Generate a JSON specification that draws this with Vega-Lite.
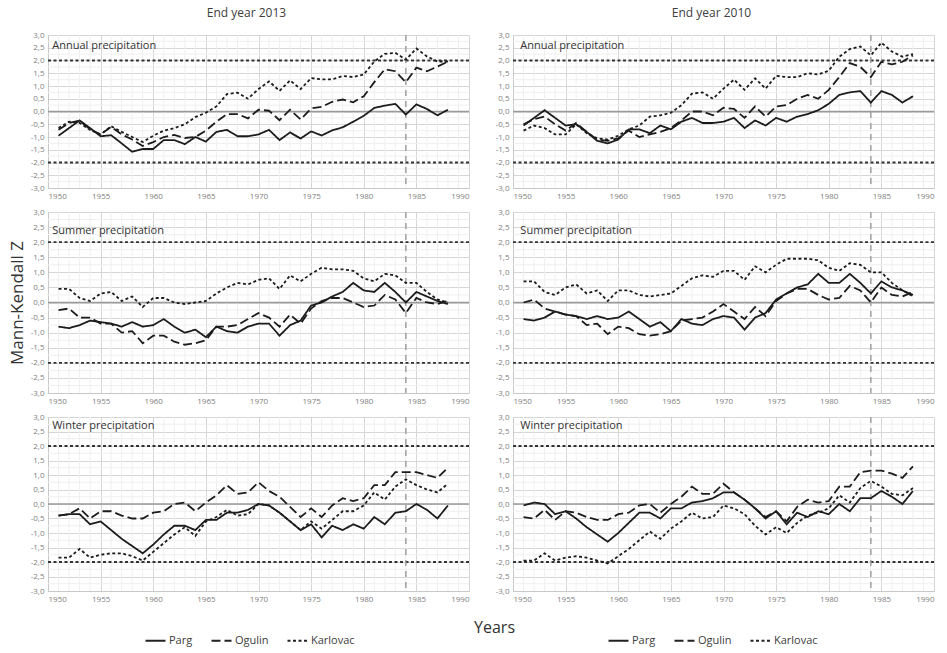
{
  "$schema": "https://vega.github.io/schema/vega-lite/v6.json",
  "background": "white",
  "padding": {"left": 8, "top": 7, "right": 5, "bottom": 5},
  "config": {
    "view": {"stroke": null},
    "font": "Liberation Sans Narrow, Open Sans, sans-serif",
    "title": {"fontWeight": "normal"},
    "axis": {"labelOverlap": false, "labelFontSize": 8, "labelColor": "#808080", "labelPadding": 4, "ticks": false, "domainColor": "#c8c8c8", "gridColor": "#d6d6d6"}
  },
  "datasets": {
    "minorYears": [{"year":1951},{"year":1952},{"year":1953},{"year":1954},{"year":1956},{"year":1957},{"year":1958},{"year":1959},{"year":1961},{"year":1962},{"year":1963},{"year":1964},{"year":1966},{"year":1967},{"year":1968},{"year":1969},{"year":1971},{"year":1972},{"year":1973},{"year":1974},{"year":1976},{"year":1977},{"year":1978},{"year":1979},{"year":1981},{"year":1982},{"year":1983},{"year":1984},{"year":1986},{"year":1987},{"year":1988},{"year":1989}],
    "minorZ": [{"z":-2.75},{"z":-2.25},{"z":-1.75},{"z":-1.25},{"z":-0.75},{"z":-0.25},{"z":0.25},{"z":0.75},{"z":1.25},{"z":1.75},{"z":2.25},{"z":2.75}],
    "annual2013": [
      {"year":1951,"station":"Parg","z":-0.95},{"year":1952,"station":"Parg","z":-0.65},{"year":1953,"station":"Parg","z":-0.35},{"year":1954,"station":"Parg","z":-0.65},{"year":1955,"station":"Parg","z":-0.97},{"year":1956,"station":"Parg","z":-0.93},{"year":1957,"station":"Parg","z":-1.25},{"year":1958,"station":"Parg","z":-1.58},{"year":1959,"station":"Parg","z":-1.47},{"year":1960,"station":"Parg","z":-1.47},{"year":1961,"station":"Parg","z":-1.12},{"year":1962,"station":"Parg","z":-1.12},{"year":1963,"station":"Parg","z":-1.28},{"year":1964,"station":"Parg","z":-1.0},{"year":1965,"station":"Parg","z":-1.18},{"year":1966,"station":"Parg","z":-0.8},{"year":1967,"station":"Parg","z":-0.72},{"year":1968,"station":"Parg","z":-0.97},{"year":1969,"station":"Parg","z":-0.97},{"year":1970,"station":"Parg","z":-0.9},{"year":1971,"station":"Parg","z":-0.72},{"year":1972,"station":"Parg","z":-1.12},{"year":1973,"station":"Parg","z":-0.82},{"year":1974,"station":"Parg","z":-1.06},{"year":1975,"station":"Parg","z":-0.78},{"year":1976,"station":"Parg","z":-0.94},{"year":1977,"station":"Parg","z":-0.74},{"year":1978,"station":"Parg","z":-0.62},{"year":1979,"station":"Parg","z":-0.4},{"year":1980,"station":"Parg","z":-0.17},{"year":1981,"station":"Parg","z":0.14},{"year":1982,"station":"Parg","z":0.23},{"year":1983,"station":"Parg","z":0.3},{"year":1984,"station":"Parg","z":-0.12},{"year":1985,"station":"Parg","z":0.28},{"year":1986,"station":"Parg","z":0.1},{"year":1987,"station":"Parg","z":-0.15},{"year":1988,"station":"Parg","z":0.07},
      {"year":1951,"station":"Ogulin","z":-0.72},{"year":1952,"station":"Ogulin","z":-0.45},{"year":1953,"station":"Ogulin","z":-0.36},{"year":1954,"station":"Ogulin","z":-0.7},{"year":1955,"station":"Ogulin","z":-0.9},{"year":1956,"station":"Ogulin","z":-0.6},{"year":1957,"station":"Ogulin","z":-0.9},{"year":1958,"station":"Ogulin","z":-1.1},{"year":1959,"station":"Ogulin","z":-1.35},{"year":1960,"station":"Ogulin","z":-1.2},{"year":1961,"station":"Ogulin","z":-1.0},{"year":1962,"station":"Ogulin","z":-0.92},{"year":1963,"station":"Ogulin","z":-1.04},{"year":1964,"station":"Ogulin","z":-1.0},{"year":1965,"station":"Ogulin","z":-0.75},{"year":1966,"station":"Ogulin","z":-0.4},{"year":1967,"station":"Ogulin","z":-0.1},{"year":1968,"station":"Ogulin","z":-0.1},{"year":1969,"station":"Ogulin","z":-0.27},{"year":1970,"station":"Ogulin","z":0.07},{"year":1971,"station":"Ogulin","z":0.03},{"year":1972,"station":"Ogulin","z":-0.34},{"year":1973,"station":"Ogulin","z":0.07},{"year":1974,"station":"Ogulin","z":-0.31},{"year":1975,"station":"Ogulin","z":0.12},{"year":1976,"station":"Ogulin","z":0.18},{"year":1977,"station":"Ogulin","z":0.38},{"year":1978,"station":"Ogulin","z":0.47},{"year":1979,"station":"Ogulin","z":0.36},{"year":1980,"station":"Ogulin","z":0.6},{"year":1981,"station":"Ogulin","z":1.15},{"year":1982,"station":"Ogulin","z":1.66},{"year":1983,"station":"Ogulin","z":1.58},{"year":1984,"station":"Ogulin","z":1.15},{"year":1985,"station":"Ogulin","z":1.72},{"year":1986,"station":"Ogulin","z":1.58},{"year":1987,"station":"Ogulin","z":1.76},{"year":1988,"station":"Ogulin","z":1.96},
      {"year":1951,"station":"Karlovac","z":-0.65},{"year":1952,"station":"Karlovac","z":-0.4},{"year":1953,"station":"Karlovac","z":-0.45},{"year":1954,"station":"Karlovac","z":-0.72},{"year":1955,"station":"Karlovac","z":-0.9},{"year":1956,"station":"Karlovac","z":-0.58},{"year":1957,"station":"Karlovac","z":-0.8},{"year":1958,"station":"Karlovac","z":-1.0},{"year":1959,"station":"Karlovac","z":-1.2},{"year":1960,"station":"Karlovac","z":-0.95},{"year":1961,"station":"Karlovac","z":-0.75},{"year":1962,"station":"Karlovac","z":-0.65},{"year":1963,"station":"Karlovac","z":-0.5},{"year":1964,"station":"Karlovac","z":-0.22},{"year":1965,"station":"Karlovac","z":-0.05},{"year":1966,"station":"Karlovac","z":0.2},{"year":1967,"station":"Karlovac","z":0.68},{"year":1968,"station":"Karlovac","z":0.74},{"year":1969,"station":"Karlovac","z":0.5},{"year":1970,"station":"Karlovac","z":0.88},{"year":1971,"station":"Karlovac","z":1.18},{"year":1972,"station":"Karlovac","z":0.81},{"year":1973,"station":"Karlovac","z":1.22},{"year":1974,"station":"Karlovac","z":0.88},{"year":1975,"station":"Karlovac","z":1.31},{"year":1976,"station":"Karlovac","z":1.26},{"year":1977,"station":"Karlovac","z":1.26},{"year":1978,"station":"Karlovac","z":1.39},{"year":1979,"station":"Karlovac","z":1.35},{"year":1980,"station":"Karlovac","z":1.45},{"year":1981,"station":"Karlovac","z":1.96},{"year":1982,"station":"Karlovac","z":2.26},{"year":1983,"station":"Karlovac","z":2.3},{"year":1984,"station":"Karlovac","z":2.03},{"year":1985,"station":"Karlovac","z":2.47},{"year":1986,"station":"Karlovac","z":2.16},{"year":1987,"station":"Karlovac","z":1.96},{"year":1988,"station":"Karlovac","z":1.96}
    ],
    "annual2010": [
      {"year":1951,"station":"Parg","z":-0.55},{"year":1952,"station":"Parg","z":-0.25},{"year":1953,"station":"Parg","z":0.05},{"year":1954,"station":"Parg","z":-0.25},{"year":1955,"station":"Parg","z":-0.55},{"year":1956,"station":"Parg","z":-0.5},{"year":1957,"station":"Parg","z":-0.8},{"year":1958,"station":"Parg","z":-1.15},{"year":1959,"station":"Parg","z":-1.25},{"year":1960,"station":"Parg","z":-1.1},{"year":1961,"station":"Parg","z":-0.7},{"year":1962,"station":"Parg","z":-0.7},{"year":1963,"station":"Parg","z":-0.85},{"year":1964,"station":"Parg","z":-0.55},{"year":1965,"station":"Parg","z":-0.7},{"year":1966,"station":"Parg","z":-0.4},{"year":1967,"station":"Parg","z":-0.25},{"year":1968,"station":"Parg","z":-0.45},{"year":1969,"station":"Parg","z":-0.45},{"year":1970,"station":"Parg","z":-0.4},{"year":1971,"station":"Parg","z":-0.25},{"year":1972,"station":"Parg","z":-0.65},{"year":1973,"station":"Parg","z":-0.35},{"year":1974,"station":"Parg","z":-0.55},{"year":1975,"station":"Parg","z":-0.25},{"year":1976,"station":"Parg","z":-0.4},{"year":1977,"station":"Parg","z":-0.2},{"year":1978,"station":"Parg","z":-0.1},{"year":1979,"station":"Parg","z":0.05},{"year":1980,"station":"Parg","z":0.3},{"year":1981,"station":"Parg","z":0.65},{"year":1982,"station":"Parg","z":0.75},{"year":1983,"station":"Parg","z":0.8},{"year":1984,"station":"Parg","z":0.35},{"year":1985,"station":"Parg","z":0.8},{"year":1986,"station":"Parg","z":0.65},{"year":1987,"station":"Parg","z":0.35},{"year":1988,"station":"Parg","z":0.6},
      {"year":1951,"station":"Ogulin","z":-0.5},{"year":1952,"station":"Ogulin","z":-0.3},{"year":1953,"station":"Ogulin","z":-0.2},{"year":1954,"station":"Ogulin","z":-0.5},{"year":1955,"station":"Ogulin","z":-0.75},{"year":1956,"station":"Ogulin","z":-0.45},{"year":1957,"station":"Ogulin","z":-0.8},{"year":1958,"station":"Ogulin","z":-1.1},{"year":1959,"station":"Ogulin","z":-1.15},{"year":1960,"station":"Ogulin","z":-1.05},{"year":1961,"station":"Ogulin","z":-0.75},{"year":1962,"station":"Ogulin","z":-1.0},{"year":1963,"station":"Ogulin","z":-0.9},{"year":1964,"station":"Ogulin","z":-0.8},{"year":1965,"station":"Ogulin","z":-0.65},{"year":1966,"station":"Ogulin","z":-0.35},{"year":1967,"station":"Ogulin","z":0.0},{"year":1968,"station":"Ogulin","z":0.0},{"year":1969,"station":"Ogulin","z":-0.15},{"year":1970,"station":"Ogulin","z":0.15},{"year":1971,"station":"Ogulin","z":0.1},{"year":1972,"station":"Ogulin","z":-0.25},{"year":1973,"station":"Ogulin","z":0.2},{"year":1974,"station":"Ogulin","z":-0.2},{"year":1975,"station":"Ogulin","z":0.2},{"year":1976,"station":"Ogulin","z":0.25},{"year":1977,"station":"Ogulin","z":0.5},{"year":1978,"station":"Ogulin","z":0.65},{"year":1979,"station":"Ogulin","z":0.5},{"year":1980,"station":"Ogulin","z":0.85},{"year":1981,"station":"Ogulin","z":1.35},{"year":1982,"station":"Ogulin","z":1.9},{"year":1983,"station":"Ogulin","z":1.75},{"year":1984,"station":"Ogulin","z":1.35},{"year":1985,"station":"Ogulin","z":1.95},{"year":1986,"station":"Ogulin","z":1.85},{"year":1987,"station":"Ogulin","z":1.95},{"year":1988,"station":"Ogulin","z":2.2},
      {"year":1951,"station":"Karlovac","z":-0.75},{"year":1952,"station":"Karlovac","z":-0.55},{"year":1953,"station":"Karlovac","z":-0.65},{"year":1954,"station":"Karlovac","z":-0.9},{"year":1955,"station":"Karlovac","z":-0.9},{"year":1956,"station":"Karlovac","z":-0.5},{"year":1957,"station":"Karlovac","z":-0.85},{"year":1958,"station":"Karlovac","z":-1.05},{"year":1959,"station":"Karlovac","z":-1.1},{"year":1960,"station":"Karlovac","z":-0.95},{"year":1961,"station":"Karlovac","z":-0.7},{"year":1962,"station":"Karlovac","z":-0.55},{"year":1963,"station":"Karlovac","z":-0.2},{"year":1964,"station":"Karlovac","z":-0.15},{"year":1965,"station":"Karlovac","z":-0.05},{"year":1966,"station":"Karlovac","z":0.25},{"year":1967,"station":"Karlovac","z":0.7},{"year":1968,"station":"Karlovac","z":0.75},{"year":1969,"station":"Karlovac","z":0.5},{"year":1970,"station":"Karlovac","z":0.9},{"year":1971,"station":"Karlovac","z":1.25},{"year":1972,"station":"Karlovac","z":0.85},{"year":1973,"station":"Karlovac","z":1.3},{"year":1974,"station":"Karlovac","z":0.9},{"year":1975,"station":"Karlovac","z":1.4},{"year":1976,"station":"Karlovac","z":1.35},{"year":1977,"station":"Karlovac","z":1.35},{"year":1978,"station":"Karlovac","z":1.5},{"year":1979,"station":"Karlovac","z":1.45},{"year":1980,"station":"Karlovac","z":1.6},{"year":1981,"station":"Karlovac","z":2.15},{"year":1982,"station":"Karlovac","z":2.45},{"year":1983,"station":"Karlovac","z":2.55},{"year":1984,"station":"Karlovac","z":2.2},{"year":1985,"station":"Karlovac","z":2.7},{"year":1986,"station":"Karlovac","z":2.35},{"year":1987,"station":"Karlovac","z":2.15},{"year":1988,"station":"Karlovac","z":2.25}
    ],
    "summer2013": [
      {"year":1951,"station":"Parg","z":-0.8},{"year":1952,"station":"Parg","z":-0.85},{"year":1953,"station":"Parg","z":-0.75},{"year":1954,"station":"Parg","z":-0.6},{"year":1955,"station":"Parg","z":-0.65},{"year":1956,"station":"Parg","z":-0.7},{"year":1957,"station":"Parg","z":-0.8},{"year":1958,"station":"Parg","z":-0.65},{"year":1959,"station":"Parg","z":-0.8},{"year":1960,"station":"Parg","z":-0.75},{"year":1961,"station":"Parg","z":-0.55},{"year":1962,"station":"Parg","z":-0.8},{"year":1963,"station":"Parg","z":-1.0},{"year":1964,"station":"Parg","z":-0.9},{"year":1965,"station":"Parg","z":-1.15},{"year":1966,"station":"Parg","z":-0.8},{"year":1967,"station":"Parg","z":-0.95},{"year":1968,"station":"Parg","z":-1.0},{"year":1969,"station":"Parg","z":-0.8},{"year":1970,"station":"Parg","z":-0.7},{"year":1971,"station":"Parg","z":-0.7},{"year":1972,"station":"Parg","z":-1.1},{"year":1973,"station":"Parg","z":-0.75},{"year":1974,"station":"Parg","z":-0.6},{"year":1975,"station":"Parg","z":-0.1},{"year":1976,"station":"Parg","z":0.0},{"year":1977,"station":"Parg","z":0.2},{"year":1978,"station":"Parg","z":0.35},{"year":1979,"station":"Parg","z":0.65},{"year":1980,"station":"Parg","z":0.4},{"year":1981,"station":"Parg","z":0.35},{"year":1982,"station":"Parg","z":0.65},{"year":1983,"station":"Parg","z":0.35},{"year":1984,"station":"Parg","z":0.0},{"year":1985,"station":"Parg","z":0.35},{"year":1986,"station":"Parg","z":0.2},{"year":1987,"station":"Parg","z":0.05},{"year":1988,"station":"Parg","z":-0.05},
      {"year":1951,"station":"Ogulin","z":-0.25},{"year":1952,"station":"Ogulin","z":-0.2},{"year":1953,"station":"Ogulin","z":-0.5},{"year":1954,"station":"Ogulin","z":-0.5},{"year":1955,"station":"Ogulin","z":-0.7},{"year":1956,"station":"Ogulin","z":-0.7},{"year":1957,"station":"Ogulin","z":-1.0},{"year":1958,"station":"Ogulin","z":-0.95},{"year":1959,"station":"Ogulin","z":-1.35},{"year":1960,"station":"Ogulin","z":-1.1},{"year":1961,"station":"Ogulin","z":-1.1},{"year":1962,"station":"Ogulin","z":-1.3},{"year":1963,"station":"Ogulin","z":-1.4},{"year":1964,"station":"Ogulin","z":-1.35},{"year":1965,"station":"Ogulin","z":-1.25},{"year":1966,"station":"Ogulin","z":-0.8},{"year":1967,"station":"Ogulin","z":-0.8},{"year":1968,"station":"Ogulin","z":-0.75},{"year":1969,"station":"Ogulin","z":-0.55},{"year":1970,"station":"Ogulin","z":-0.35},{"year":1971,"station":"Ogulin","z":-0.5},{"year":1972,"station":"Ogulin","z":-0.8},{"year":1973,"station":"Ogulin","z":-0.4},{"year":1974,"station":"Ogulin","z":-0.7},{"year":1975,"station":"Ogulin","z":-0.2},{"year":1976,"station":"Ogulin","z":0.05},{"year":1977,"station":"Ogulin","z":0.15},{"year":1978,"station":"Ogulin","z":0.15},{"year":1979,"station":"Ogulin","z":0.0},{"year":1980,"station":"Ogulin","z":-0.15},{"year":1981,"station":"Ogulin","z":-0.1},{"year":1982,"station":"Ogulin","z":0.25},{"year":1983,"station":"Ogulin","z":0.1},{"year":1984,"station":"Ogulin","z":-0.35},{"year":1985,"station":"Ogulin","z":0.15},{"year":1986,"station":"Ogulin","z":0.0},{"year":1987,"station":"Ogulin","z":-0.05},{"year":1988,"station":"Ogulin","z":0.05},
      {"year":1951,"station":"Karlovac","z":0.45},{"year":1952,"station":"Karlovac","z":0.45},{"year":1953,"station":"Karlovac","z":0.15},{"year":1954,"station":"Karlovac","z":0.05},{"year":1955,"station":"Karlovac","z":0.3},{"year":1956,"station":"Karlovac","z":0.35},{"year":1957,"station":"Karlovac","z":0.05},{"year":1958,"station":"Karlovac","z":0.2},{"year":1959,"station":"Karlovac","z":-0.15},{"year":1960,"station":"Karlovac","z":0.15},{"year":1961,"station":"Karlovac","z":0.15},{"year":1962,"station":"Karlovac","z":0.0},{"year":1963,"station":"Karlovac","z":-0.05},{"year":1964,"station":"Karlovac","z":0.0},{"year":1965,"station":"Karlovac","z":0.05},{"year":1966,"station":"Karlovac","z":0.3},{"year":1967,"station":"Karlovac","z":0.5},{"year":1968,"station":"Karlovac","z":0.65},{"year":1969,"station":"Karlovac","z":0.6},{"year":1970,"station":"Karlovac","z":0.75},{"year":1971,"station":"Karlovac","z":0.8},{"year":1972,"station":"Karlovac","z":0.45},{"year":1973,"station":"Karlovac","z":0.9},{"year":1974,"station":"Karlovac","z":0.7},{"year":1975,"station":"Karlovac","z":0.95},{"year":1976,"station":"Karlovac","z":1.15},{"year":1977,"station":"Karlovac","z":1.1},{"year":1978,"station":"Karlovac","z":1.1},{"year":1979,"station":"Karlovac","z":1.05},{"year":1980,"station":"Karlovac","z":0.8},{"year":1981,"station":"Karlovac","z":0.7},{"year":1982,"station":"Karlovac","z":0.95},{"year":1983,"station":"Karlovac","z":0.9},{"year":1984,"station":"Karlovac","z":0.65},{"year":1985,"station":"Karlovac","z":0.65},{"year":1986,"station":"Karlovac","z":0.35},{"year":1987,"station":"Karlovac","z":0.1},{"year":1988,"station":"Karlovac","z":0.0}
    ],
    "summer2010": [
      {"year":1951,"station":"Parg","z":-0.55},{"year":1952,"station":"Parg","z":-0.6},{"year":1953,"station":"Parg","z":-0.5},{"year":1954,"station":"Parg","z":-0.3},{"year":1955,"station":"Parg","z":-0.4},{"year":1956,"station":"Parg","z":-0.45},{"year":1957,"station":"Parg","z":-0.55},{"year":1958,"station":"Parg","z":-0.45},{"year":1959,"station":"Parg","z":-0.55},{"year":1960,"station":"Parg","z":-0.5},{"year":1961,"station":"Parg","z":-0.3},{"year":1962,"station":"Parg","z":-0.55},{"year":1963,"station":"Parg","z":-0.8},{"year":1964,"station":"Parg","z":-0.65},{"year":1965,"station":"Parg","z":-0.95},{"year":1966,"station":"Parg","z":-0.55},{"year":1967,"station":"Parg","z":-0.7},{"year":1968,"station":"Parg","z":-0.75},{"year":1969,"station":"Parg","z":-0.55},{"year":1970,"station":"Parg","z":-0.45},{"year":1971,"station":"Parg","z":-0.5},{"year":1972,"station":"Parg","z":-0.9},{"year":1973,"station":"Parg","z":-0.5},{"year":1974,"station":"Parg","z":-0.35},{"year":1975,"station":"Parg","z":0.1},{"year":1976,"station":"Parg","z":0.3},{"year":1977,"station":"Parg","z":0.5},{"year":1978,"station":"Parg","z":0.6},{"year":1979,"station":"Parg","z":0.95},{"year":1980,"station":"Parg","z":0.65},{"year":1981,"station":"Parg","z":0.65},{"year":1982,"station":"Parg","z":0.95},{"year":1983,"station":"Parg","z":0.65},{"year":1984,"station":"Parg","z":0.3},{"year":1985,"station":"Parg","z":0.7},{"year":1986,"station":"Parg","z":0.5},{"year":1987,"station":"Parg","z":0.4},{"year":1988,"station":"Parg","z":0.25},
      {"year":1951,"station":"Ogulin","z":0.0},{"year":1952,"station":"Ogulin","z":0.1},{"year":1953,"station":"Ogulin","z":-0.2},{"year":1954,"station":"Ogulin","z":-0.3},{"year":1955,"station":"Ogulin","z":-0.4},{"year":1956,"station":"Ogulin","z":-0.45},{"year":1957,"station":"Ogulin","z":-0.75},{"year":1958,"station":"Ogulin","z":-0.7},{"year":1959,"station":"Ogulin","z":-1.05},{"year":1960,"station":"Ogulin","z":-0.8},{"year":1961,"station":"Ogulin","z":-0.85},{"year":1962,"station":"Ogulin","z":-1.05},{"year":1963,"station":"Ogulin","z":-1.1},{"year":1964,"station":"Ogulin","z":-1.05},{"year":1965,"station":"Ogulin","z":-0.95},{"year":1966,"station":"Ogulin","z":-0.6},{"year":1967,"station":"Ogulin","z":-0.55},{"year":1968,"station":"Ogulin","z":-0.5},{"year":1969,"station":"Ogulin","z":-0.3},{"year":1970,"station":"Ogulin","z":-0.05},{"year":1971,"station":"Ogulin","z":-0.3},{"year":1972,"station":"Ogulin","z":-0.55},{"year":1973,"station":"Ogulin","z":-0.15},{"year":1974,"station":"Ogulin","z":-0.45},{"year":1975,"station":"Ogulin","z":0.05},{"year":1976,"station":"Ogulin","z":0.3},{"year":1977,"station":"Ogulin","z":0.45},{"year":1978,"station":"Ogulin","z":0.45},{"year":1979,"station":"Ogulin","z":0.25},{"year":1980,"station":"Ogulin","z":0.1},{"year":1981,"station":"Ogulin","z":0.15},{"year":1982,"station":"Ogulin","z":0.55},{"year":1983,"station":"Ogulin","z":0.4},{"year":1984,"station":"Ogulin","z":0.0},{"year":1985,"station":"Ogulin","z":0.5},{"year":1986,"station":"Ogulin","z":0.25},{"year":1987,"station":"Ogulin","z":0.2},{"year":1988,"station":"Ogulin","z":0.35},
      {"year":1951,"station":"Karlovac","z":0.7},{"year":1952,"station":"Karlovac","z":0.7},{"year":1953,"station":"Karlovac","z":0.35},{"year":1954,"station":"Karlovac","z":0.25},{"year":1955,"station":"Karlovac","z":0.5},{"year":1956,"station":"Karlovac","z":0.6},{"year":1957,"station":"Karlovac","z":0.3},{"year":1958,"station":"Karlovac","z":0.4},{"year":1959,"station":"Karlovac","z":0.05},{"year":1960,"station":"Karlovac","z":0.4},{"year":1961,"station":"Karlovac","z":0.4},{"year":1962,"station":"Karlovac","z":0.25},{"year":1963,"station":"Karlovac","z":0.2},{"year":1964,"station":"Karlovac","z":0.25},{"year":1965,"station":"Karlovac","z":0.3},{"year":1966,"station":"Karlovac","z":0.55},{"year":1967,"station":"Karlovac","z":0.8},{"year":1968,"station":"Karlovac","z":0.9},{"year":1969,"station":"Karlovac","z":0.85},{"year":1970,"station":"Karlovac","z":1.05},{"year":1971,"station":"Karlovac","z":1.05},{"year":1972,"station":"Karlovac","z":0.75},{"year":1973,"station":"Karlovac","z":1.2},{"year":1974,"station":"Karlovac","z":1.0},{"year":1975,"station":"Karlovac","z":1.25},{"year":1976,"station":"Karlovac","z":1.45},{"year":1977,"station":"Karlovac","z":1.45},{"year":1978,"station":"Karlovac","z":1.45},{"year":1979,"station":"Karlovac","z":1.4},{"year":1980,"station":"Karlovac","z":1.15},{"year":1981,"station":"Karlovac","z":1.05},{"year":1982,"station":"Karlovac","z":1.3},{"year":1983,"station":"Karlovac","z":1.25},{"year":1984,"station":"Karlovac","z":1.0},{"year":1985,"station":"Karlovac","z":1.0},{"year":1986,"station":"Karlovac","z":0.65},{"year":1987,"station":"Karlovac","z":0.4},{"year":1988,"station":"Karlovac","z":0.2}
    ],
    "winter2013": [
      {"year":1951,"station":"Parg","z":-0.4},{"year":1952,"station":"Parg","z":-0.35},{"year":1953,"station":"Parg","z":-0.35},{"year":1954,"station":"Parg","z":-0.7},{"year":1955,"station":"Parg","z":-0.6},{"year":1956,"station":"Parg","z":-0.9},{"year":1957,"station":"Parg","z":-1.2},{"year":1958,"station":"Parg","z":-1.45},{"year":1959,"station":"Parg","z":-1.7},{"year":1960,"station":"Parg","z":-1.4},{"year":1961,"station":"Parg","z":-1.05},{"year":1962,"station":"Parg","z":-0.75},{"year":1963,"station":"Parg","z":-0.75},{"year":1964,"station":"Parg","z":-0.9},{"year":1965,"station":"Parg","z":-0.55},{"year":1966,"station":"Parg","z":-0.55},{"year":1967,"station":"Parg","z":-0.3},{"year":1968,"station":"Parg","z":-0.3},{"year":1969,"station":"Parg","z":-0.2},{"year":1970,"station":"Parg","z":0.0},{"year":1971,"station":"Parg","z":-0.05},{"year":1972,"station":"Parg","z":-0.3},{"year":1973,"station":"Parg","z":-0.6},{"year":1974,"station":"Parg","z":-0.9},{"year":1975,"station":"Parg","z":-0.7},{"year":1976,"station":"Parg","z":-1.15},{"year":1977,"station":"Parg","z":-0.75},{"year":1978,"station":"Parg","z":-0.9},{"year":1979,"station":"Parg","z":-0.7},{"year":1980,"station":"Parg","z":-0.85},{"year":1981,"station":"Parg","z":-0.45},{"year":1982,"station":"Parg","z":-0.7},{"year":1983,"station":"Parg","z":-0.3},{"year":1984,"station":"Parg","z":-0.25},{"year":1985,"station":"Parg","z":0.0},{"year":1986,"station":"Parg","z":-0.2},{"year":1987,"station":"Parg","z":-0.5},{"year":1988,"station":"Parg","z":-0.05},
      {"year":1951,"station":"Ogulin","z":-0.4},{"year":1952,"station":"Ogulin","z":-0.35},{"year":1953,"station":"Ogulin","z":-0.15},{"year":1954,"station":"Ogulin","z":-0.5},{"year":1955,"station":"Ogulin","z":-0.25},{"year":1956,"station":"Ogulin","z":-0.25},{"year":1957,"station":"Ogulin","z":-0.4},{"year":1958,"station":"Ogulin","z":-0.5},{"year":1959,"station":"Ogulin","z":-0.5},{"year":1960,"station":"Ogulin","z":-0.3},{"year":1961,"station":"Ogulin","z":-0.25},{"year":1962,"station":"Ogulin","z":0.0},{"year":1963,"station":"Ogulin","z":0.05},{"year":1964,"station":"Ogulin","z":-0.25},{"year":1965,"station":"Ogulin","z":0.05},{"year":1966,"station":"Ogulin","z":0.3},{"year":1967,"station":"Ogulin","z":0.65},{"year":1968,"station":"Ogulin","z":0.35},{"year":1969,"station":"Ogulin","z":0.4},{"year":1970,"station":"Ogulin","z":0.75},{"year":1971,"station":"Ogulin","z":0.45},{"year":1972,"station":"Ogulin","z":0.25},{"year":1973,"station":"Ogulin","z":-0.1},{"year":1974,"station":"Ogulin","z":-0.45},{"year":1975,"station":"Ogulin","z":-0.15},{"year":1976,"station":"Ogulin","z":-0.45},{"year":1977,"station":"Ogulin","z":-0.05},{"year":1978,"station":"Ogulin","z":0.2},{"year":1979,"station":"Ogulin","z":0.1},{"year":1980,"station":"Ogulin","z":0.2},{"year":1981,"station":"Ogulin","z":0.65},{"year":1982,"station":"Ogulin","z":0.65},{"year":1983,"station":"Ogulin","z":1.1},{"year":1984,"station":"Ogulin","z":1.1},{"year":1985,"station":"Ogulin","z":1.1},{"year":1986,"station":"Ogulin","z":1.0},{"year":1987,"station":"Ogulin","z":0.9},{"year":1988,"station":"Ogulin","z":1.25},
      {"year":1951,"station":"Karlovac","z":-1.85},{"year":1952,"station":"Karlovac","z":-1.85},{"year":1953,"station":"Karlovac","z":-1.55},{"year":1954,"station":"Karlovac","z":-1.85},{"year":1955,"station":"Karlovac","z":-1.75},{"year":1956,"station":"Karlovac","z":-1.7},{"year":1957,"station":"Karlovac","z":-1.7},{"year":1958,"station":"Karlovac","z":-1.8},{"year":1959,"station":"Karlovac","z":-1.95},{"year":1960,"station":"Karlovac","z":-1.65},{"year":1961,"station":"Karlovac","z":-1.35},{"year":1962,"station":"Karlovac","z":-1.05},{"year":1963,"station":"Karlovac","z":-0.8},{"year":1964,"station":"Karlovac","z":-1.1},{"year":1965,"station":"Karlovac","z":-0.6},{"year":1966,"station":"Karlovac","z":-0.45},{"year":1967,"station":"Karlovac","z":-0.2},{"year":1968,"station":"Karlovac","z":-0.4},{"year":1969,"station":"Karlovac","z":-0.35},{"year":1970,"station":"Karlovac","z":0.0},{"year":1971,"station":"Karlovac","z":-0.05},{"year":1972,"station":"Karlovac","z":-0.3},{"year":1973,"station":"Karlovac","z":-0.6},{"year":1974,"station":"Karlovac","z":-0.9},{"year":1975,"station":"Karlovac","z":-0.6},{"year":1976,"station":"Karlovac","z":-0.85},{"year":1977,"station":"Karlovac","z":-0.55},{"year":1978,"station":"Karlovac","z":-0.25},{"year":1979,"station":"Karlovac","z":-0.25},{"year":1980,"station":"Karlovac","z":-0.05},{"year":1981,"station":"Karlovac","z":0.4},{"year":1982,"station":"Karlovac","z":0.15},{"year":1983,"station":"Karlovac","z":0.6},{"year":1984,"station":"Karlovac","z":0.85},{"year":1985,"station":"Karlovac","z":0.65},{"year":1986,"station":"Karlovac","z":0.5},{"year":1987,"station":"Karlovac","z":0.4},{"year":1988,"station":"Karlovac","z":0.7}
    ],
    "winter2010": [
      {"year":1951,"station":"Parg","z":-0.05},{"year":1952,"station":"Parg","z":0.05},{"year":1953,"station":"Parg","z":0.0},{"year":1954,"station":"Parg","z":-0.35},{"year":1955,"station":"Parg","z":-0.25},{"year":1956,"station":"Parg","z":-0.5},{"year":1957,"station":"Parg","z":-0.8},{"year":1958,"station":"Parg","z":-1.05},{"year":1959,"station":"Parg","z":-1.3},{"year":1960,"station":"Parg","z":-1.0},{"year":1961,"station":"Parg","z":-0.65},{"year":1962,"station":"Parg","z":-0.3},{"year":1963,"station":"Parg","z":-0.3},{"year":1964,"station":"Parg","z":-0.5},{"year":1965,"station":"Parg","z":-0.15},{"year":1966,"station":"Parg","z":-0.15},{"year":1967,"station":"Parg","z":0.05},{"year":1968,"station":"Parg","z":0.1},{"year":1969,"station":"Parg","z":0.2},{"year":1970,"station":"Parg","z":0.4},{"year":1971,"station":"Parg","z":0.4},{"year":1972,"station":"Parg","z":0.15},{"year":1973,"station":"Parg","z":-0.15},{"year":1974,"station":"Parg","z":-0.5},{"year":1975,"station":"Parg","z":-0.25},{"year":1976,"station":"Parg","z":-0.7},{"year":1977,"station":"Parg","z":-0.3},{"year":1978,"station":"Parg","z":-0.45},{"year":1979,"station":"Parg","z":-0.25},{"year":1980,"station":"Parg","z":-0.35},{"year":1981,"station":"Parg","z":0.0},{"year":1982,"station":"Parg","z":-0.25},{"year":1983,"station":"Parg","z":0.2},{"year":1984,"station":"Parg","z":0.2},{"year":1985,"station":"Parg","z":0.45},{"year":1986,"station":"Parg","z":0.25},{"year":1987,"station":"Parg","z":0.0},{"year":1988,"station":"Parg","z":0.45},
      {"year":1951,"station":"Ogulin","z":-0.45},{"year":1952,"station":"Ogulin","z":-0.5},{"year":1953,"station":"Ogulin","z":-0.2},{"year":1954,"station":"Ogulin","z":-0.55},{"year":1955,"station":"Ogulin","z":-0.25},{"year":1956,"station":"Ogulin","z":-0.3},{"year":1957,"station":"Ogulin","z":-0.45},{"year":1958,"station":"Ogulin","z":-0.55},{"year":1959,"station":"Ogulin","z":-0.55},{"year":1960,"station":"Ogulin","z":-0.35},{"year":1961,"station":"Ogulin","z":-0.3},{"year":1962,"station":"Ogulin","z":-0.05},{"year":1963,"station":"Ogulin","z":0.0},{"year":1964,"station":"Ogulin","z":-0.3},{"year":1965,"station":"Ogulin","z":0.0},{"year":1966,"station":"Ogulin","z":0.25},{"year":1967,"station":"Ogulin","z":0.6},{"year":1968,"station":"Ogulin","z":0.35},{"year":1969,"station":"Ogulin","z":0.35},{"year":1970,"station":"Ogulin","z":0.7},{"year":1971,"station":"Ogulin","z":0.4},{"year":1972,"station":"Ogulin","z":0.15},{"year":1973,"station":"Ogulin","z":-0.15},{"year":1974,"station":"Ogulin","z":-0.45},{"year":1975,"station":"Ogulin","z":-0.25},{"year":1976,"station":"Ogulin","z":-0.6},{"year":1977,"station":"Ogulin","z":-0.1},{"year":1978,"station":"Ogulin","z":0.15},{"year":1979,"station":"Ogulin","z":0.05},{"year":1980,"station":"Ogulin","z":0.1},{"year":1981,"station":"Ogulin","z":0.6},{"year":1982,"station":"Ogulin","z":0.6},{"year":1983,"station":"Ogulin","z":1.1},{"year":1984,"station":"Ogulin","z":1.15},{"year":1985,"station":"Ogulin","z":1.15},{"year":1986,"station":"Ogulin","z":1.05},{"year":1987,"station":"Ogulin","z":0.9},{"year":1988,"station":"Ogulin","z":1.3},
      {"year":1951,"station":"Karlovac","z":-1.95},{"year":1952,"station":"Karlovac","z":-1.95},{"year":1953,"station":"Karlovac","z":-1.7},{"year":1954,"station":"Karlovac","z":-1.95},{"year":1955,"station":"Karlovac","z":-1.85},{"year":1956,"station":"Karlovac","z":-1.8},{"year":1957,"station":"Karlovac","z":-1.85},{"year":1958,"station":"Karlovac","z":-1.95},{"year":1959,"station":"Karlovac","z":-2.05},{"year":1960,"station":"Karlovac","z":-1.8},{"year":1961,"station":"Karlovac","z":-1.55},{"year":1962,"station":"Karlovac","z":-1.25},{"year":1963,"station":"Karlovac","z":-0.95},{"year":1964,"station":"Karlovac","z":-1.2},{"year":1965,"station":"Karlovac","z":-0.85},{"year":1966,"station":"Karlovac","z":-0.6},{"year":1967,"station":"Karlovac","z":-0.3},{"year":1968,"station":"Karlovac","z":-0.5},{"year":1969,"station":"Karlovac","z":-0.45},{"year":1970,"station":"Karlovac","z":-0.05},{"year":1971,"station":"Karlovac","z":-0.15},{"year":1972,"station":"Karlovac","z":-0.35},{"year":1973,"station":"Karlovac","z":-0.75},{"year":1974,"station":"Karlovac","z":-1.05},{"year":1975,"station":"Karlovac","z":-0.8},{"year":1976,"station":"Karlovac","z":-1.0},{"year":1977,"station":"Karlovac","z":-0.65},{"year":1978,"station":"Karlovac","z":-0.4},{"year":1979,"station":"Karlovac","z":-0.3},{"year":1980,"station":"Karlovac","z":-0.15},{"year":1981,"station":"Karlovac","z":0.3},{"year":1982,"station":"Karlovac","z":0.05},{"year":1983,"station":"Karlovac","z":0.55},{"year":1984,"station":"Karlovac","z":0.8},{"year":1985,"station":"Karlovac","z":0.6},{"year":1986,"station":"Karlovac","z":0.35},{"year":1987,"station":"Karlovac","z":0.3},{"year":1988,"station":"Karlovac","z":0.55}
    ]
  },
  "concat": [
    {
      "width": 421, "height": 153,
      "title": {"text": "End year 2013", "fontSize": 12, "color": "#404040", "offset": 11, "dx": -12},
      "layer": [
        {"data": {"name": "minorYears"}, "mark": {"type": "rule", "color": "#efefef", "strokeWidth": 1},
         "encoding": {"x": {"field": "year", "type": "quantitative", "scale": {"domain": [1950, 1990], "nice": false, "zero": false},
           "axis": {"values": [1950,1955,1960,1965,1970,1975,1980,1985,1990], "tickCount": 20, "format": "d", "title": null}}}},
        {"data": {"name": "minorZ"}, "mark": {"type": "rule", "color": "#efefef", "strokeWidth": 1},
         "encoding": {"y": {"field": "z", "type": "quantitative", "scale": {"domain": [-3, 3], "nice": false},
           "axis": {"values": [-3,-2.5,-2,-1.5,-1,-0.5,0,0.5,1,1.5,2,2.5,3], "tickCount": 30, "labelExpr": "replace(replace(format(datum.value, '.1f'), '.', ','), '\u2212', '-')", "title": null}}}},
        {"data": {"values": [{"z": 2}, {"z": -2}]}, "mark": {"type": "rule", "color": "#333333", "strokeWidth": 1.8, "strokeDash": [3, 2.5]}, "encoding": {"y": {"field": "z", "type": "quantitative"}}},
        {"data": {"values": [{"z": 0}]}, "mark": {"type": "rule", "color": "#9a9a9a", "strokeWidth": 1.6}, "encoding": {"y": {"field": "z", "type": "quantitative"}}},
        {"data": {"values": [{"year": 1984}]}, "mark": {"type": "rule", "color": "#9a9a9a", "strokeWidth": 1.4, "strokeDash": [6, 5]}, "encoding": {"x": {"field": "year", "type": "quantitative"}}},
        {"data": {"name": "annual2013"}, "mark": {"type": "line", "color": "#1c1c1c", "strokeWidth": 1.8},
         "encoding": {"x": {"field": "year", "type": "quantitative"}, "y": {"field": "z", "type": "quantitative"},
           "strokeDash": {"field": "station", "type": "nominal", "scale": {"domain": ["Parg", "Ogulin", "Karlovac"], "range": [[1, 0], [9, 4], [3, 2.5]]}, "legend": null}}},
        {"data": {"values": [{"year": 1950.4, "z": 2.58, "label": "Annual precipitation"}]}, "mark": {"type": "text", "align": "left", "baseline": "middle", "fontSize": 11, "color": "#333333"},
         "encoding": {"x": {"field": "year", "type": "quantitative"}, "y": {"field": "z", "type": "quantitative"}, "text": {"field": "label"}}}
      ]
    },
    {
      "width": 421, "height": 153,
      "title": {"text": "End year 2010", "fontSize": 12, "color": "#404040", "offset": 11, "dx": -12},
      "layer": [
        {"data": {"name": "minorYears"}, "mark": {"type": "rule", "color": "#efefef", "strokeWidth": 1},
         "encoding": {"x": {"field": "year", "type": "quantitative", "scale": {"domain": [1950, 1990], "nice": false, "zero": false},
           "axis": {"values": [1950,1955,1960,1965,1970,1975,1980,1985,1990], "tickCount": 20, "format": "d", "title": null}}}},
        {"data": {"name": "minorZ"}, "mark": {"type": "rule", "color": "#efefef", "strokeWidth": 1},
         "encoding": {"y": {"field": "z", "type": "quantitative", "scale": {"domain": [-3, 3], "nice": false},
           "axis": {"values": [-3,-2.5,-2,-1.5,-1,-0.5,0,0.5,1,1.5,2,2.5,3], "tickCount": 30, "labelExpr": "replace(replace(format(datum.value, '.1f'), '.', ','), '\u2212', '-')", "title": null}}}},
        {"data": {"values": [{"z": 2}, {"z": -2}]}, "mark": {"type": "rule", "color": "#333333", "strokeWidth": 1.8, "strokeDash": [3, 2.5]}, "encoding": {"y": {"field": "z", "type": "quantitative"}}},
        {"data": {"values": [{"z": 0}]}, "mark": {"type": "rule", "color": "#9a9a9a", "strokeWidth": 1.6}, "encoding": {"y": {"field": "z", "type": "quantitative"}}},
        {"data": {"values": [{"year": 1984}]}, "mark": {"type": "rule", "color": "#9a9a9a", "strokeWidth": 1.4, "strokeDash": [6, 5]}, "encoding": {"x": {"field": "year", "type": "quantitative"}}},
        {"data": {"name": "annual2010"}, "mark": {"type": "line", "color": "#1c1c1c", "strokeWidth": 1.8},
         "encoding": {"x": {"field": "year", "type": "quantitative"}, "y": {"field": "z", "type": "quantitative"},
           "strokeDash": {"field": "station", "type": "nominal", "scale": {"domain": ["Parg", "Ogulin", "Karlovac"], "range": [[1, 0], [9, 4], [3, 2.5]]}, "legend": null}}},
        {"data": {"values": [{"year": 1950.7, "z": 2.58, "label": "Annual precipitation"}]}, "mark": {"type": "text", "align": "left", "baseline": "middle", "fontSize": 11, "color": "#333333"},
         "encoding": {"x": {"field": "year", "type": "quantitative"}, "y": {"field": "z", "type": "quantitative"}, "text": {"field": "label"}}}
      ]
    },
    {
      "width": 421, "height": 181,
      "layer": [
        {"data": {"name": "minorYears"}, "mark": {"type": "rule", "color": "#efefef", "strokeWidth": 1},
         "encoding": {"x": {"field": "year", "type": "quantitative", "scale": {"domain": [1950, 1990], "nice": false, "zero": false},
           "axis": {"values": [1950,1955,1960,1965,1970,1975,1980,1985,1990], "tickCount": 20, "format": "d", "title": null}}}},
        {"data": {"name": "minorZ"}, "mark": {"type": "rule", "color": "#efefef", "strokeWidth": 1},
         "encoding": {"y": {"field": "z", "type": "quantitative", "scale": {"domain": [-3, 3], "nice": false},
           "axis": {"values": [-3,-2.5,-2,-1.5,-1,-0.5,0,0.5,1,1.5,2,2.5,3], "tickCount": 30, "labelExpr": "replace(replace(format(datum.value, '.1f'), '.', ','), '\u2212', '-')", "title": "Mann-Kendall Z", "titleFontSize": 17, "titleFontWeight": "normal", "titleColor": "#333333", "titlePadding": 4}}}},
        {"data": {"values": [{"z": 2}, {"z": -2}]}, "mark": {"type": "rule", "color": "#333333", "strokeWidth": 1.8, "strokeDash": [3, 2.5]}, "encoding": {"y": {"field": "z", "type": "quantitative"}}},
        {"data": {"values": [{"z": 0}]}, "mark": {"type": "rule", "color": "#9a9a9a", "strokeWidth": 1.6}, "encoding": {"y": {"field": "z", "type": "quantitative"}}},
        {"data": {"values": [{"year": 1984}]}, "mark": {"type": "rule", "color": "#9a9a9a", "strokeWidth": 1.4, "strokeDash": [6, 5]}, "encoding": {"x": {"field": "year", "type": "quantitative"}}},
        {"data": {"name": "summer2013"}, "mark": {"type": "line", "color": "#1c1c1c", "strokeWidth": 1.8},
         "encoding": {"x": {"field": "year", "type": "quantitative"}, "y": {"field": "z", "type": "quantitative"},
           "strokeDash": {"field": "station", "type": "nominal", "scale": {"domain": ["Parg", "Ogulin", "Karlovac"], "range": [[1, 0], [9, 4], [3, 2.5]]}, "legend": null}}},
        {"data": {"values": [{"year": 1950.4, "z": 2.38, "label": "Summer precipitation"}]}, "mark": {"type": "text", "align": "left", "baseline": "middle", "fontSize": 11, "color": "#333333"},
         "encoding": {"x": {"field": "year", "type": "quantitative"}, "y": {"field": "z", "type": "quantitative"}, "text": {"field": "label"}}}
      ]
    },
    {
      "width": 421, "height": 181,
      "layer": [
        {"data": {"name": "minorYears"}, "mark": {"type": "rule", "color": "#efefef", "strokeWidth": 1},
         "encoding": {"x": {"field": "year", "type": "quantitative", "scale": {"domain": [1950, 1990], "nice": false, "zero": false},
           "axis": {"values": [1950,1955,1960,1965,1970,1975,1980,1985,1990], "tickCount": 20, "format": "d", "title": null}}}},
        {"data": {"name": "minorZ"}, "mark": {"type": "rule", "color": "#efefef", "strokeWidth": 1},
         "encoding": {"y": {"field": "z", "type": "quantitative", "scale": {"domain": [-3, 3], "nice": false},
           "axis": {"values": [-3,-2.5,-2,-1.5,-1,-0.5,0,0.5,1,1.5,2,2.5,3], "tickCount": 30, "labelExpr": "replace(replace(format(datum.value, '.1f'), '.', ','), '\u2212', '-')", "title": null}}}},
        {"data": {"values": [{"z": 2}, {"z": -2}]}, "mark": {"type": "rule", "color": "#333333", "strokeWidth": 1.8, "strokeDash": [3, 2.5]}, "encoding": {"y": {"field": "z", "type": "quantitative"}}},
        {"data": {"values": [{"z": 0}]}, "mark": {"type": "rule", "color": "#9a9a9a", "strokeWidth": 1.6}, "encoding": {"y": {"field": "z", "type": "quantitative"}}},
        {"data": {"values": [{"year": 1984}]}, "mark": {"type": "rule", "color": "#9a9a9a", "strokeWidth": 1.4, "strokeDash": [6, 5]}, "encoding": {"x": {"field": "year", "type": "quantitative"}}},
        {"data": {"name": "summer2010"}, "mark": {"type": "line", "color": "#1c1c1c", "strokeWidth": 1.8},
         "encoding": {"x": {"field": "year", "type": "quantitative"}, "y": {"field": "z", "type": "quantitative"},
           "strokeDash": {"field": "station", "type": "nominal", "scale": {"domain": ["Parg", "Ogulin", "Karlovac"], "range": [[1, 0], [9, 4], [3, 2.5]]}, "legend": null}}},
        {"data": {"values": [{"year": 1950.7, "z": 2.38, "label": "Summer precipitation"}]}, "mark": {"type": "text", "align": "left", "baseline": "middle", "fontSize": 11, "color": "#333333"},
         "encoding": {"x": {"field": "year", "type": "quantitative"}, "y": {"field": "z", "type": "quantitative"}, "text": {"field": "label"}}}
      ]
    },
    {
      "width": 421, "height": 174,
      "layer": [
        {"data": {"name": "minorYears"}, "mark": {"type": "rule", "color": "#efefef", "strokeWidth": 1},
         "encoding": {"x": {"field": "year", "type": "quantitative", "scale": {"domain": [1950, 1990], "nice": false, "zero": false},
           "axis": {"values": [1950,1955,1960,1965,1970,1975,1980,1985,1990], "tickCount": 20, "format": "d", "title": "Years", "titleFontSize": 16, "titleFontWeight": "normal", "titleColor": "#333333", "titleX": 446, "titleY": 36, "titleBaseline": "middle"}}}},
        {"data": {"name": "minorZ"}, "mark": {"type": "rule", "color": "#efefef", "strokeWidth": 1},
         "encoding": {"y": {"field": "z", "type": "quantitative", "scale": {"domain": [-3, 3], "nice": false},
           "axis": {"values": [-3,-2.5,-2,-1.5,-1,-0.5,0,0.5,1,1.5,2,2.5,3], "tickCount": 30, "labelExpr": "replace(replace(format(datum.value, '.1f'), '.', ','), '\u2212', '-')", "title": null}}}},
        {"data": {"values": [{"z": 2}, {"z": -2}]}, "mark": {"type": "rule", "color": "#333333", "strokeWidth": 1.8, "strokeDash": [3, 2.5]}, "encoding": {"y": {"field": "z", "type": "quantitative"}}},
        {"data": {"values": [{"z": 0}]}, "mark": {"type": "rule", "color": "#9a9a9a", "strokeWidth": 1.6}, "encoding": {"y": {"field": "z", "type": "quantitative"}}},
        {"data": {"values": [{"year": 1984}]}, "mark": {"type": "rule", "color": "#9a9a9a", "strokeWidth": 1.4, "strokeDash": [6, 5]}, "encoding": {"x": {"field": "year", "type": "quantitative"}}},
        {"data": {"name": "winter2013"}, "mark": {"type": "line", "color": "#1c1c1c", "strokeWidth": 1.8},
         "encoding": {"x": {"field": "year", "type": "quantitative"}, "y": {"field": "z", "type": "quantitative"},
           "strokeDash": {"field": "station", "type": "nominal", "scale": {"domain": ["Parg", "Ogulin", "Karlovac"], "range": [[1, 0], [9, 4], [3, 2.5]]},
             "legend": {"orient": "none", "legendX": 96, "legendY": 212, "direction": "horizontal", "title": null, "symbolType": "stroke", "symbolSize": 400, "symbolStrokeWidth": 2.2, "symbolStrokeColor": "#222222", "labelFontSize": 11, "labelColor": "#404040", "columnPadding": 14, "labelOffset": 2}}}},
        {"data": {"values": [{"year": 1950.4, "z": 2.7, "label": "Winter precipitation"}]}, "mark": {"type": "text", "align": "left", "baseline": "middle", "fontSize": 11, "color": "#333333"},
         "encoding": {"x": {"field": "year", "type": "quantitative"}, "y": {"field": "z", "type": "quantitative"}, "text": {"field": "label"}}}
      ]
    },
    {
      "width": 421, "height": 174,
      "layer": [
        {"data": {"name": "minorYears"}, "mark": {"type": "rule", "color": "#efefef", "strokeWidth": 1},
         "encoding": {"x": {"field": "year", "type": "quantitative", "scale": {"domain": [1950, 1990], "nice": false, "zero": false},
           "axis": {"values": [1950,1955,1960,1965,1970,1975,1980,1985,1990], "tickCount": 20, "format": "d", "title": null}}}},
        {"data": {"name": "minorZ"}, "mark": {"type": "rule", "color": "#efefef", "strokeWidth": 1},
         "encoding": {"y": {"field": "z", "type": "quantitative", "scale": {"domain": [-3, 3], "nice": false},
           "axis": {"values": [-3,-2.5,-2,-1.5,-1,-0.5,0,0.5,1,1.5,2,2.5,3], "tickCount": 30, "labelExpr": "replace(replace(format(datum.value, '.1f'), '.', ','), '\u2212', '-')", "title": null}}}},
        {"data": {"values": [{"z": 2}, {"z": -2}]}, "mark": {"type": "rule", "color": "#333333", "strokeWidth": 1.8, "strokeDash": [3, 2.5]}, "encoding": {"y": {"field": "z", "type": "quantitative"}}},
        {"data": {"values": [{"z": 0}]}, "mark": {"type": "rule", "color": "#9a9a9a", "strokeWidth": 1.6}, "encoding": {"y": {"field": "z", "type": "quantitative"}}},
        {"data": {"values": [{"year": 1984}]}, "mark": {"type": "rule", "color": "#9a9a9a", "strokeWidth": 1.4, "strokeDash": [6, 5]}, "encoding": {"x": {"field": "year", "type": "quantitative"}}},
        {"data": {"name": "winter2010"}, "mark": {"type": "line", "color": "#1c1c1c", "strokeWidth": 1.8},
         "encoding": {"x": {"field": "year", "type": "quantitative"}, "y": {"field": "z", "type": "quantitative"},
           "strokeDash": {"field": "station", "type": "nominal", "scale": {"domain": ["Parg", "Ogulin", "Karlovac"], "range": [[1, 0], [9, 4], [3, 2.5]]},
             "legend": {"orient": "none", "legendX": 94, "legendY": 212, "direction": "horizontal", "title": null, "symbolType": "stroke", "symbolSize": 400, "symbolStrokeWidth": 2.2, "symbolStrokeColor": "#222222", "labelFontSize": 11, "labelColor": "#404040", "columnPadding": 14, "labelOffset": 2}}}},
        {"data": {"values": [{"year": 1950.7, "z": 2.7, "label": "Winter precipitation"}]}, "mark": {"type": "text", "align": "left", "baseline": "middle", "fontSize": 11, "color": "#333333"},
         "encoding": {"x": {"field": "year", "type": "quantitative"}, "y": {"field": "z", "type": "quantitative"}, "text": {"field": "label"}}}
      ]
    }
  ],
  "columns": 2,
  "spacing": {"row": 24, "column": 44},
  "bounds": "flush",
  "resolve": {"scale": {"strokeDash": "independent"}, "legend": {"strokeDash": "independent"}}
}
